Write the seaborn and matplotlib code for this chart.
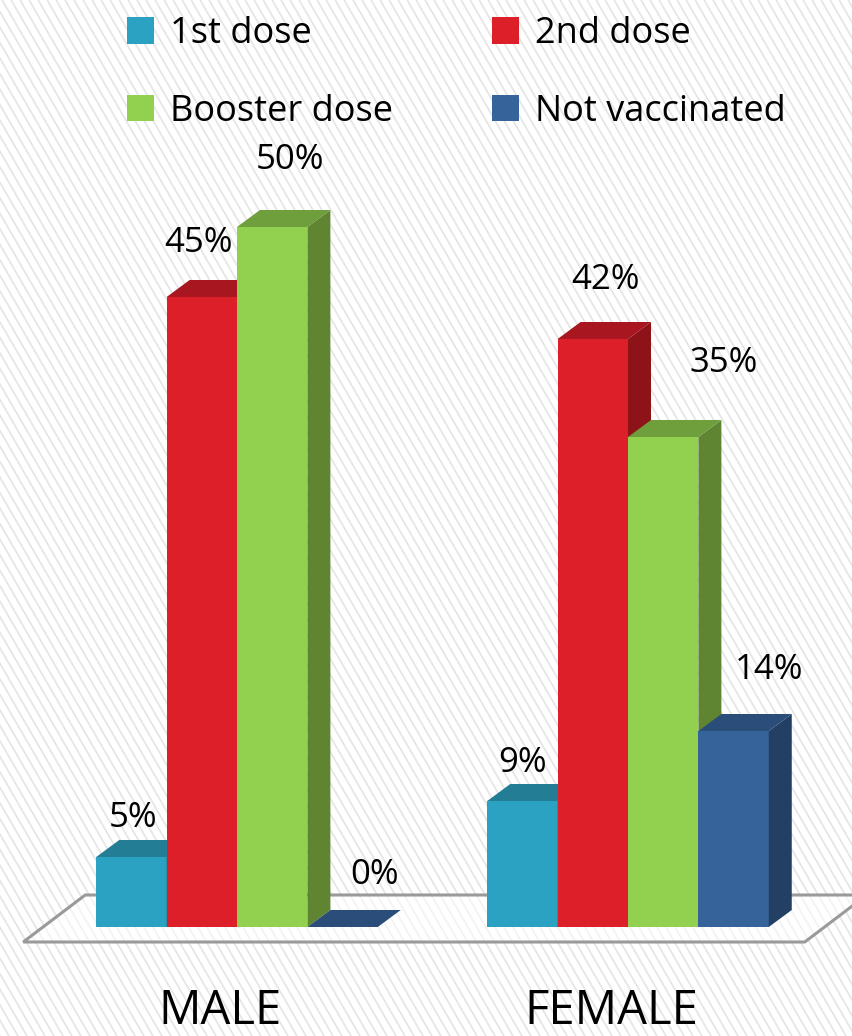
import matplotlib
matplotlib.use("Agg")
import matplotlib.pyplot as plt
from matplotlib.patches import Polygon
from matplotlib.collections import LineCollection
import seaborn as sns
import pandas as pd
import numpy as np

# ---- data -------------------------------------------------------------
genders = ["MALE", "FEMALE"]
doses = ["1st dose", "2nd dose", "Booster dose", "Not vaccinated"]
male_pct = [5, 45, 50, 0]
female_pct = [9, 42, 35, 14]

# ---- style ------------------------------------------------------------
front_colors = ["#2CA2C2", "#DD1F2A", "#92D050", "#37639B"]
top_colors = ["#237E95", "#A8161F", "#6F9E3C", "#2B4D79"]
side_colors = ["#1F6F85", "#8E1319", "#5F8532", "#243F64"]

# label offsets in pixels (right, up) from each bar's front-top centre
label_offsets = [(2, 39), (-3, 54), (18, 67), (32, 52),
                 (0, 38), (13, 59), (60, 74), (36, 61)]

W, H = 853, 1036
PX_X = 391.0     # pixels per category step
PX_Y = 14.0      # pixels per percentage point
X0_PX = 237.0    # pixel column of the first category
BASE_PX = 927.0  # pixel row of the bar baseline
DEPTH_X, DEPTH_Y = 23.0, 17.0  # 3-D extrusion in pixels

df = pd.DataFrame({
    "gender": np.repeat(genders, len(doses)),
    "dose": doses * len(genders),
    "pct": male_pct + female_pct,
})

sns.set_style("white")
plt.rcParams["font.family"] = ["Open Sans", "DejaVu Sans"]
plt.rcParams["text.color"] = "black"

fig = plt.figure(figsize=(W / 100, H / 100), dpi=100)
fig.patch.set_facecolor("white")

# diagonal pinstripe backdrop
k = 0.58
step = 9.0
xs = np.arange(-H * k, W + step, step)
segs = [[(x, H), (x + H * k, 0)] for x in xs]
fig.add_artist(LineCollection(segs, colors="#e6e6e6", linewidths=1.3,
                              transform=None, zorder=-5))

ax = fig.add_axes([0, 0, 1, 1])
ax.patch.set_alpha(0)

sns.barplot(data=df, x="gender", y="pct", hue="dose", hue_order=doses,
            palette=front_colors, saturation=1, width=0.72, linewidth=0,
            ax=ax)

ax.set_xlim(-X0_PX / PX_X, (W - X0_PX) / PX_X)
ax.set_ylim(-(H - BASE_PX) / PX_Y, BASE_PX / PX_Y)
ax.set_axis_off()

dx = DEPTH_X / PX_X
dy = DEPTH_Y / PX_Y

# floor platform spanning all bars
all_bars = [b for c in ax.containers for b in c]
xmin = min(b.get_x() for b in all_bars)
xmax = max(b.get_x() + b.get_width() for b in all_bars)
fl = xmin - 73 / PX_X
fr = xmax + 36 / PX_X
fy0 = -15 / PX_Y
fshift_x, fshift_y = 62 / PX_X, 47 / PX_Y
floor = Polygon([(fl, fy0), (fr, fy0), (fr + fshift_x, fy0 + fshift_y),
                 (fl + fshift_x, fy0 + fshift_y)], closed=True,
                facecolor=(1, 1, 1, 0.55), edgecolor="#9a9a9a",
                linewidth=2.2, zorder=1)
ax.add_patch(floor)

# extrude each bar: front (seaborn), top face, right face
for i in range(len(genders)):
    for j in range(len(doses)):
        bar = ax.containers[j][i]
        x0, w, h = bar.get_x(), bar.get_width(), bar.get_height()
        z = 10 + 3 * (i * len(doses) + j)
        bar.set_zorder(z)
        top = Polygon([(x0, h), (x0 + dx, h + dy), (x0 + w + dx, h + dy),
                       (x0 + w, h)], closed=True, facecolor=top_colors[j],
                      edgecolor="none", zorder=z + 1)
        side = Polygon([(x0 + w, 0), (x0 + w + dx, dy), (x0 + w + dx, h + dy),
                        (x0 + w, h)], closed=True, facecolor=side_colors[j],
                       edgecolor="none", zorder=z + 1)
        ax.add_patch(side)
        ax.add_patch(top)
        ox, oy = label_offsets[i * len(doses) + j]
        ax.annotate(f"{h:.0f}%", (x0 + w / 2, h),
                    xytext=(ox * 0.72, oy * 0.72), textcoords="offset points",
                    ha="center", va="center", fontsize=25, color="black",
                    zorder=100)

# category captions under the platform
for i, g in enumerate(genders):
    ax.text(i - 17 / PX_X, -(1035 - BASE_PX) / PX_Y, g, ha="center",
            va="bottom", fontsize=34, color="black")

# legend in two rows: 1st/2nd dose, then booster/not vaccinated
leg = ax.get_legend()
handles = list(leg.legend_handles)
labels = [t.get_text() for t in leg.get_texts()]
order = [0, 2, 1, 3]
ax.legend([handles[o] for o in order], [labels[o] for o in order],
          ncol=2, loc="upper left",
          bbox_to_anchor=(127 / W, 1 - 16 / H), bbox_transform=fig.transFigure,
          frameon=False, fontsize=26, handlelength=0.75, handleheight=0.75,
          handletextpad=0.45, columnspacing=2.72, labelspacing=1.15,
          borderpad=0, borderaxespad=0, labelcolor="black")

fig.savefig("out.png", dpi=100)
